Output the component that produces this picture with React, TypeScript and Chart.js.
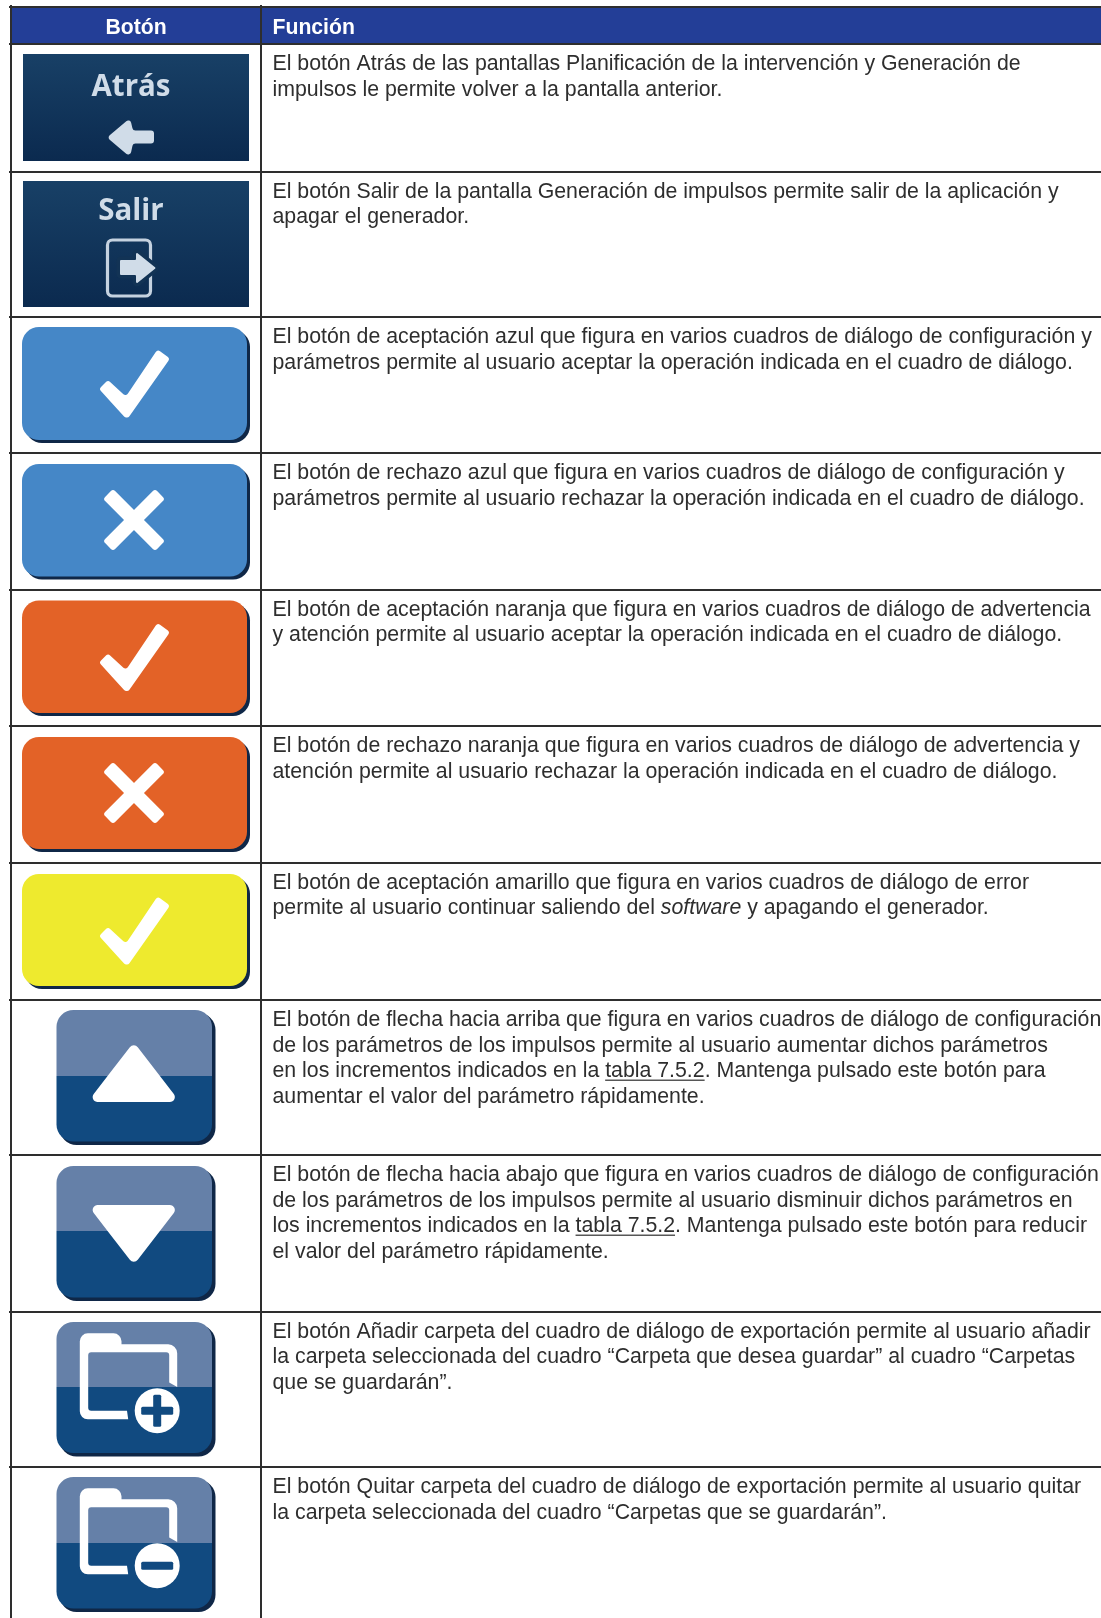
import React, { useEffect, useRef } from "react";
import { Chart, registerables } from "chart.js";

Chart.register(...registerables);

const W = 1101;
const H = 1618;
const headers = ["Botón", "Función"];
const columnEdges = [10.5, 261];
const rowEdges = [7, 44, 171.5, 317, 453, 589.5, 726, 862.5, 1000, 1155, 1311.5, 1467];

const functionTexts: string[][] = [
  ["El botón Atrás de las pantallas Planificación de la intervención y Generación de", "impulsos le permite volver a la pantalla anterior."],
  ["El botón Salir de la pantalla Generación de impulsos permite salir de la aplicación y", "apagar el generador."],
  ["El botón de aceptación azul que figura en varios cuadros de diálogo de configuración y", "parámetros permite al usuario aceptar la operación indicada en el cuadro de diálogo."],
  ["El botón de rechazo azul que figura en varios cuadros de diálogo de configuración y", "parámetros permite al usuario rechazar la operación indicada en el cuadro de diálogo."],
  ["El botón de aceptación naranja que figura en varios cuadros de diálogo de advertencia", "y atención permite al usuario aceptar la operación indicada en el cuadro de diálogo."],
  ["El botón de rechazo naranja que figura en varios cuadros de diálogo de advertencia y", "atención permite al usuario rechazar la operación indicada en el cuadro de diálogo."],
  ["El botón de aceptación amarillo que figura en varios cuadros de diálogo de error", "permite al usuario continuar saliendo del *software* y apagando el generador."],
  ["El botón de flecha hacia arriba que figura en varios cuadros de diálogo de configuración", "de los parámetros de los impulsos permite al usuario aumentar dichos parámetros", "en los incrementos indicados en la _tabla 7.5.2_. Mantenga pulsado este botón para", "aumentar el valor del parámetro rápidamente."],
  ["El botón de flecha hacia abajo que figura en varios cuadros de diálogo de configuración", "de los parámetros de los impulsos permite al usuario disminuir dichos parámetros en", "los incrementos indicados en la _tabla 7.5.2_. Mantenga pulsado este botón para reducir", "el valor del parámetro rápidamente."],
  ["El botón Añadir carpeta del cuadro de diálogo de exportación permite al usuario añadir", "la carpeta seleccionada del cuadro “Carpeta que desea guardar” al cuadro “Carpetas", "que se guardarán”."],
  ["El botón Quitar carpeta del cuadro de diálogo de exportación permite al usuario quitar", "la carpeta seleccionada del cuadro “Carpetas que se guardarán”."],
];

type Btn = { kind: string; l: number; r: number; t: number; b: number; split?: number };
const buttons: Btn[] = [
  { kind: "atras", l: 23, r: 249, t: 54, b: 161 },
  { kind: "salir", l: 23, r: 249, t: 181, b: 307 },
  { kind: "blueCheck", l: 22, r: 250, t: 327, b: 443 },
  { kind: "blueX", l: 22, r: 250, t: 464, b: 579.5 },
  { kind: "orangeCheck", l: 22, r: 250, t: 600.5, b: 716 },
  { kind: "orangeX", l: 22, r: 250, t: 737, b: 852 },
  { kind: "yellowCheck", l: 22, r: 250, t: 874, b: 989 },
  { kind: "up", l: 56.5, r: 215.5, t: 1010, b: 1145, split: 1076 },
  { kind: "down", l: 56.5, r: 215.5, t: 1166, b: 1301, split: 1231 },
  { kind: "add", l: 56.5, r: 215.5, t: 1322, b: 1456.5, split: 1387 },
  { kind: "remove", l: 56.5, r: 215.5, t: 1477, b: 1612, split: 1543 },
];

const INK = "#2e2e2e";
const NAVY = "#0f2747";
const fills: Record<string, string> = { blue: "#4587c7", orange: "#e36227", yellow: "#eeea2e", top: "#6580a8", low: "#114a80" };

type Pt = [number, number, number?];
function roundedPoly(ctx: CanvasRenderingContext2D, pts: Pt[], radius: number) {
  const n = pts.length;
  const a = pts[n - 1], b = pts[0];
  ctx.moveTo((a[0] + b[0]) / 2, (a[1] + b[1]) / 2);
  for (let i = 0; i < n; i++) {
    const p = pts[i], q = pts[(i + 1) % n];
    ctx.arcTo(p[0], p[1], (p[0] + q[0]) / 2, (p[1] + q[1]) / 2, p[2] ?? radius);
  }
  ctx.closePath();
}
function fillPoly(ctx: CanvasRenderingContext2D, x: number, y: number, pts: Pt[], r: number, color: string) {
  ctx.beginPath();
  roundedPoly(ctx, pts.map(p => [p[0] + x, p[1] + y, p[2]] as Pt), r);
  ctx.fillStyle = color;
  ctx.fill();
}
function check(ctx: CanvasRenderingContext2D, b: Btn) {
  fillPoly(ctx, b.l, b.t, [[77, 62], [86, 53], [104, 69.5], [135.5, 22.5], [148, 31.5], [106.5, 90.5], [103, 90.5]], 3, "#fff");
}
function cross(ctx: CanvasRenderingContext2D, b: Btn) {
  const cx = b.l + 112, cy = b.t + 56, d = 26, w = 5;
  fillPoly(ctx, cx, cy, [[-d - w, -d + w], [-d + w, -d - w], [d + w, d - w], [d - w, d + w]], 3, "#fff");
  fillPoly(ctx, cx, cy, [[d - w, -d - w], [d + w, -d + w], [-d + w, d + w], [-d - w, d - w]], 3, "#fff");
}
function folder(ctx: CanvasRenderingContext2D, b: Btn, plus: boolean) {
  const pts: Pt[] = [[71.7, 97.3, 0], [23.3, 97.3, 8], [23.3, 11.3, 8], [65, 11.3, 8], [65, 22.3, 0], [120.7, 22.3, 9], [120.7, 65, 0], [112.7, 60.5, 0], [112.7, 30.3, 3], [31.7, 30.3, 3], [31.7, 88.7, 3], [70.5, 88.7, 0]];
  fillPoly(ctx, b.l, b.t, pts, 0, "#fff");
  const cx = b.l + 100.7, cy = b.t + 88.7;
  ctx.fillStyle = "#fff";
  ctx.beginPath();
  ctx.arc(cx, cy, 22.5, 0, Math.PI * 2);
  ctx.fill();
  ctx.fillStyle = fills.low;
  ctx.beginPath();
  ctx.roundRect(cx - 16, cy - 4, 32, 8, 1.5);
  ctx.fill();
  if (plus) {
    ctx.beginPath();
    ctx.roundRect(cx - 4, cy - 16, 8, 32, 1.5);
    ctx.fill();
  }
}
function drawGlyph(ctx: CanvasRenderingContext2D, b: Btn) {
  const pale = "#d0dce8";
  switch (b.kind) {
    case "atras":
      ctx.fillStyle = pale;
      ctx.font = 'bold 29.5px "Open Sans"';
      ctx.textAlign = "center";
      ctx.fillText("Atrás", 131, 96);
      fillPoly(ctx, b.l, b.t, [[84, 83.5], [107, 64], [110, 76.5], [131, 76.5], [131, 89.5], [110, 89.5], [107, 103]], 3, pale);
      break;
    case "salir":
      ctx.fillStyle = pale;
      ctx.font = 'bold 29.5px "Open Sans"';
      ctx.textAlign = "center";
      ctx.fillText("Salir", 131, 220);
      ctx.strokeStyle = "#c5d2e0";
      ctx.lineWidth = 3.2;
      ctx.beginPath();
      ctx.roundRect(107.5, 240, 43, 56, 5);
      ctx.stroke();
      {
        const arrow: Pt[] = [[120, 260], [136, 260], [136, 252], [156, 268], [136, 284], [136, 275], [120, 275]];
        ctx.beginPath();
        roundedPoly(ctx, arrow, 1);
        ctx.strokeStyle = "#123355";
        ctx.lineWidth = 7;
        ctx.stroke();
        ctx.fillStyle = pale;
        ctx.fill();
      }
      break;
    case "blueCheck":
    case "orangeCheck":
    case "yellowCheck":
      check(ctx, b);
      break;
    case "blueX":
    case "orangeX":
      cross(ctx, b);
      break;
    case "up":
      fillPoly(ctx, b.l, b.t, [[77.3, 32], [123.5, 92], [31, 92]], 5, "#fff");
      break;
    case "down":
      fillPoly(ctx, b.l, b.t, [[77.3, 99], [123.5, 39], [31, 39]], 5, "#fff");
      break;
    case "add":
      folder(ctx, b, true);
      break;
    case "remove":
      folder(ctx, b, false);
      break;
  }
}

const FONT_SIZE = 21.3;
const LINE_H = 25.5;
function drawRich(ctx: CanvasRenderingContext2D, line: string, x: number, y: number) {
  const parts = line.split(/(\*[^*]+\*|_[^_]+_)/).filter(Boolean);
  let cx = x;
  for (const part of parts) {
    const italic = part[0] === "*";
    const under = part[0] === "_";
    const text = italic || under ? part.slice(1, -1) : part;
    ctx.font = `${italic ? "italic " : ""}${FONT_SIZE}px "Liberation Sans"`;
    ctx.fillText(text, cx, y);
    const w = ctx.measureText(text).width;
    if (under) ctx.fillRect(cx, y + 2.5, w, 1.2);
    cx += w;
  }
}

const tablePlugin = {
  id: "tablePlugin",
  afterDatasetsDraw(chart: any) {
    const ctx: CanvasRenderingContext2D = chart.ctx;
    const sx = chart.scales.x, sy = chart.scales.y;
    ctx.save();
    ctx.textBaseline = "alphabetic";
    ctx.fillStyle = "#fff";
    ctx.textAlign = "center";
    ctx.font = 'bold 21.2px "Liberation Sans"';
    ctx.fillText(headers[0], sx.getPixelForValue(136), sy.getPixelForValue(34));
    ctx.textAlign = "left";
    ctx.fillText(headers[1], sx.getPixelForValue(272.5), sy.getPixelForValue(34));
    ctx.fillStyle = INK;
    functionTexts.forEach((lines, i) => {
      const top = rowEdges[i + 1];
      lines.forEach((line, j) => {
        ctx.fillStyle = INK;
        drawRich(ctx, line, sx.getPixelForValue(272.5), sy.getPixelForValue(top + 26.1 + j * LINE_H));
      });
    });
    buttons.forEach(b => {
      ctx.textAlign = "left";
      drawGlyph(ctx, b);
    });
    ctx.restore();
  },
};

function bar(l: number, r: number, t: number, b: number, color: any, radius: any, order: number) {
  return {
    data: [{ x: [l, r], y: (t + b) / 2 }],
    barThickness: b - t,
    backgroundColor: color,
    borderRadius: radius,
    borderSkipped: false,
    inflateAmount: 0,
    grouped: false,
    order,
  };
}

export default function App() {
  const ref = useRef<HTMLCanvasElement>(null);
  useEffect(() => {
    document.body.style.margin = "0";
    const canvas = ref.current!;
    const ctx = canvas.getContext("2d")!;
    const datasets: any[] = [bar(10, W, 8, 44, "#233e97", 0, 5)];
    buttons.forEach(b => {
      if (b.kind === "atras" || b.kind === "salir") {
        const g = ctx.createLinearGradient(0, b.t, 0, b.b);
        g.addColorStop(0, "#184066");
        g.addColorStop(1, "#0b2a4f");
        datasets.push(bar(b.l, b.r, b.t, b.b, g, 0, 2));
        return;
      }
      const R = 17;
      datasets.push(bar(b.l + 3, b.r, b.t + 3, b.b, NAVY, R, 3));
      if (b.split) {
        datasets.push(bar(b.l, b.r - 3.5, b.t, b.split, fills.top, { topLeft: R, topRight: R, bottomLeft: 0, bottomRight: 0 }, 2));
        datasets.push(bar(b.l, b.r - 3.5, b.split, b.b - 3.5, fills.low, { topLeft: 0, topRight: 0, bottomLeft: R, bottomRight: R }, 2));
      } else {
        const c = b.kind.startsWith("blue") ? fills.blue : b.kind.startsWith("orange") ? fills.orange : fills.yellow;
        datasets.push(bar(b.l, b.r - 3, b.t, b.b - 3, c, R, 2));
      }
    });
    const chart = new Chart(canvas, {
      type: "bar",
      data: { datasets },
      plugins: [tablePlugin],
      options: {
        indexAxis: "y",
        responsive: false,
        animation: false,
        layout: { padding: { left: 9, top: 5, right: 0, bottom: 0 } },
        plugins: { legend: { display: false }, tooltip: { enabled: false } },
        scales: {
          x: {
            type: "linear", min: 9, max: W, position: "top",
            afterBuildTicks: (s: any) => { s.ticks = columnEdges.map(value => ({ value })); },
            ticks: { display: false },
            border: { display: false },
            grid: { color: "#2e2e2e", lineWidth: 2, drawTicks: false, offset: false, z: 1 },
          },
          y: {
            type: "linear", min: 5, max: H, reverse: true, offset: false,
            afterBuildTicks: (s: any) => { s.ticks = rowEdges.map(value => ({ value })); },
            ticks: { display: false },
            border: { display: false },
            grid: { color: "#2e2e2e", lineWidth: 2, drawTicks: false, offset: false, z: 1 },
          },
        },
      },
    } as any);
    return () => chart.destroy();
  }, []);
  return <canvas ref={ref} width={W} height={H} style={{ display: "block" }} />;
}
